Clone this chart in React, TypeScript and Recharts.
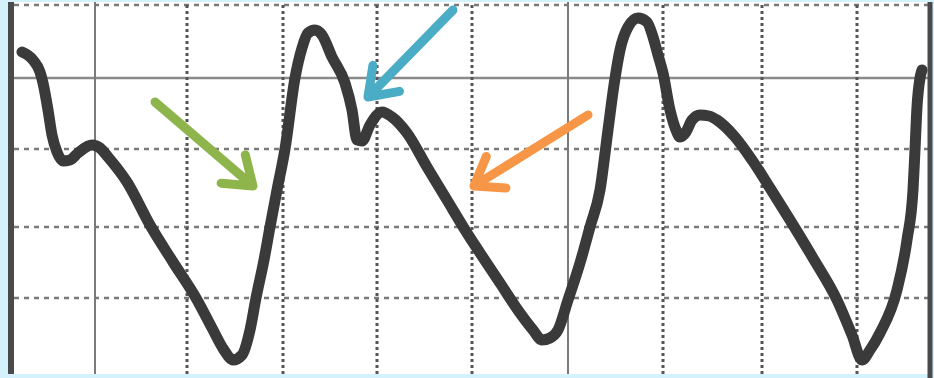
import React from 'react';
import { LineChart, Line, XAxis, YAxis, ReferenceLine, ReferenceArea } from 'recharts';

// Trace of the arterial pressure waveform (time, pressure)
const time = [22,33,40,43,48,52,57,63,70,78,92,100,108,127,150,173,196,212,224,233,242,250,256,264,270,277,285,295,302,308,315,322,332,345,352,357,362,370,382,392,407,427,447,467,480,500,520,533,542,550,558,568,580,590,600,608,614,620,628,638,647,653,658,663,670,676,680,686,692,700,709,717,735,752,770,790,813,837,852,862,870,880,897,907,913,915,917,920,922];
const pressure = [326,318,306,295,268,243,226,217,218,225,233,230,221,196,153,116,80,50,28,18,23,48,80,118,151,188,229,300,330,345,348,343,321,295,268,238,237,253,266,261,245,211,178,145,125,95,65,48,38,40,48,78,115,151,188,248,293,328,351,360,356,341,323,305,268,248,241,246,258,263,262,258,241,218,190,158,120,78,43,18,28,45,88,138,188,228,271,300,308];

const data = time.map((t, i) => ({ t, p: pressure[i] }));

// Grid of the recording paper
const solidTimes = [95, 568];
const dottedTimes = [187, 283, 377, 472, 663, 762, 857];
const solidLevels = [300];
const dashedLevels = [373, 229, 151, 80];

// Annotation arrows: [tailTime, tailPressure, tipTime, tipPressure, colour]
const arrows: [number, number, number, number, string][] = [
  [155, 276, 253, 192, '#8db54b'],
  [453, 368, 368, 281, '#4bacc6'],
  [588, 263, 474, 192, '#f79646'],
];

const ArrowShape = (props: any) => {
  const { x1, y1, x2, y2, stroke } = props;
  const ang = Math.atan2(y2 - y1, x2 - x1);
  const len = 32;
  const spread = 0.62;
  const ax = x2 - len * Math.cos(ang - spread);
  const ay = y2 - len * Math.sin(ang - spread);
  const bx = x2 - len * Math.cos(ang + spread);
  const by = y2 - len * Math.sin(ang + spread);
  return (
    <g>
      <path
        d={`M${x1},${y1}L${x2},${y2}M${ax},${ay}L${x2},${y2}L${bx},${by}`}
        stroke={stroke}
        strokeWidth={9}
        fill="none"
        strokeLinecap="round"
        strokeLinejoin="round"
      />
    </g>
  );
};

export default function App() {
  return (
    <div style={{ position: 'absolute', left: 0, top: 0, width: 934, height: 378, background: '#d5f1fb' }}>
      <LineChart width={934} height={378} data={data} margin={{ top: 0, right: 0, bottom: 0, left: 0 }}>
        <XAxis type="number" dataKey="t" domain={[0, 934]} hide />
        <YAxis type="number" domain={[0, 378]} hide />
        <ReferenceArea x1={14} x2={928} y1={4} y2={376} fill="#ffffff" fillOpacity={1} stroke="none" ifOverflow="visible" />
        {dashedLevels.map((v) => (
          <ReferenceLine key={'h' + v} segment={[{ x: 14, y: v }, { x: 928, y: v }]} stroke="#7a7a7a" strokeWidth={2.5} strokeDasharray="5 5" />
        ))}
        {solidLevels.map((v) => (
          <ReferenceLine key={'s' + v} segment={[{ x: 14, y: v }, { x: 928, y: v }]} stroke="#8a8a8a" strokeWidth={2.5} />
        ))}
        {dottedTimes.map((v) => (
          <ReferenceLine key={'d' + v} segment={[{ x: v, y: 4 }, { x: v, y: 376 }]} stroke="#555555" strokeWidth={3} strokeDasharray="3 3" />
        ))}
        {solidTimes.map((v) => (
          <ReferenceLine key={'v' + v} segment={[{ x: v, y: 4 }, { x: v, y: 376 }]} stroke="#7a7a7a" strokeWidth={2} />
        ))}
        <ReferenceLine segment={[{ x: 11, y: 4 }, { x: 11, y: 376 }]} stroke="#4a4a4a" strokeWidth={6} />
        <ReferenceLine segment={[{ x: 930, y: 0 }, { x: 930, y: 376 }]} stroke="#4a4a4a" strokeWidth={5} />
        <Line
          type="monotone"
          dataKey="p"
          stroke="#3a3a3a"
          strokeWidth={11}
          dot={false}
          activeDot={false}
          isAnimationActive={false}
          strokeLinejoin="round"
          strokeLinecap="round"
        />
        {arrows.map(([a, b, c, d, col], i) => (
          <ReferenceLine
            key={'a' + i}
            segment={[{ x: a, y: b }, { x: c, y: d }]}
            stroke={col}
            shape={ArrowShape}
            ifOverflow="visible"
          />
        ))}
      </LineChart>
    </div>
  );
}
